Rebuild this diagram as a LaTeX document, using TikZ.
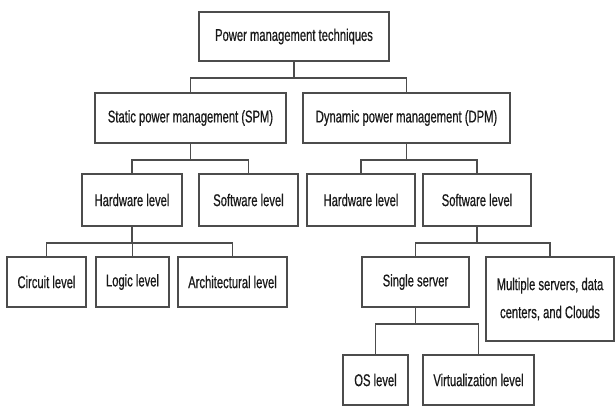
\documentclass[tikz,border=0pt]{standalone}
\usepackage{fontspec}
\setmainfont[FakeStretch=0.66,FakeBold=0.6]{Liberation Sans}
\usetikzlibrary{positioning}
\usepackage{xcolor}
\def\barsep{16}

\begin{document}
\begin{tikzpicture}[x=1pt,y=-1pt,draw=black!70,line width=1.5pt]
    \tikzstyle{box}=[draw=black!70, rectangle, inner sep=0pt, minimum height=50pt, text=black!90, font=\fontsize{17pt}{28pt}\selectfont, align=center]
    \tikzstyle{link}=[draw=black!70, line width=1.5pt]

    \useasboundingbox (0,0) rectangle (615,407);

    % top
    \node[box, minimum width=190pt, minimum height=49pt] (root) at (294,36.5) {Power management techniques};

    % static / dynamic
    \node[box, minimum width=191pt] (spm) at (190.5,118) {Static power management (SPM)};
    \node[box, minimum width=207pt] (dpm) at (406.5,118) {Dynamic power management (DPM)};

    % levels
    \node[box, minimum width=100pt, minimum height=52pt] (hw-s) at (132,200) {Hardware level};
    \node[box, minimum width=99pt, minimum height=52pt] (sw-s) at (248.5,200) {Software level};
    \node[box, minimum width=108pt, minimum height=52pt] (hw-d) at (361,200) {Hardware level};
    \node[box, minimum width=108pt, minimum height=52pt] (sw-d) at (477,200) {Software level};

    % hardware (SPM)
    \node[box, minimum width=79pt] (circ) at (46.5,282) {Circuit level};
    \node[box, minimum width=73pt] (logic) at (132.5,282) {Logic level};
    \node[box, minimum width=109pt] (arch) at (232.5,282) {Architectural level};

    % software (DPM)
    \node[box, minimum width=107pt] (single) at (415.5,282) {Single server};
    \node[box, minimum width=128pt, minimum height=84pt] (multi) at (550,299) {Multiple servers, data\\centers, and Clouds};

    % single server
    \node[box, minimum width=65pt] (os) at (375.5,380) {OS level};
    \node[box, minimum width=111pt] (virt) at (478.5,380) {Virtualization level};

    \foreach \p/\c in {root/spm, root/dpm, spm/hw-s, spm/sw-s, dpm/hw-d, dpm/sw-d, hw-s/circ, hw-s/logic, hw-s/arch, sw-d/single, sw-d/multi, single/os, single/virt}{
        \draw[link] (\p.south) -- ++(0,\barsep) -| (\c.north);
    }
\end{tikzpicture}
\end{document}
